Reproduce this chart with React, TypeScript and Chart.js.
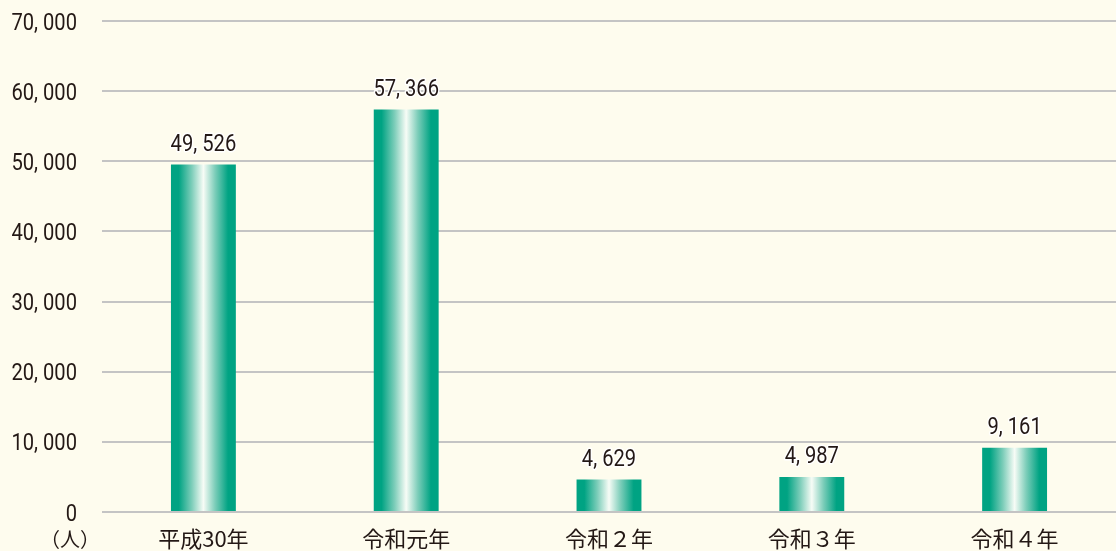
import React, { useEffect, useRef } from "react";
import { Chart, registerables } from "chart.js";

Chart.register(...registerables);

const categories = ["平成30年", "令和元年", "令和２年", "令和３年", "令和４年"];
const values = [49526, 57366, 4629, 4987, 9161];
const yTicks = [0, 10000, 20000, 30000, 40000, 50000, 60000, 70000];
const unitLabel = "（人）";

const NUM_FONT = 'Roboto, "Noto Sans", sans-serif';
const CJK_FONT = '"Noto Sans CJK JP", "Noto Sans", sans-serif';
const TEXT = "#231815";
const TEAL = "#00a383";
const SQUEEZE = 0.84;

const fmt = (v: number) => {
  const s = Math.round(v).toString();
  if (s.length <= 3) return s;
  return s.slice(0, s.length - 3) + ", " + s.slice(s.length - 3);
};

function drawCondensed(ctx: CanvasRenderingContext2D, text: string, x: number, y: number, align: "right" | "center", halo: boolean) {
  ctx.save();
  ctx.translate(x, y);
  ctx.scale(SQUEEZE, 1);
  ctx.textAlign = align;
  ctx.textBaseline = "alphabetic";
  if (halo) {
    ctx.lineWidth = 3;
    ctx.lineJoin = "round";
    ctx.strokeStyle = "#ffffff";
    ctx.strokeText(text, 0, 0);
  }
  ctx.fillStyle = TEXT;
  ctx.fillText(text, 0, 0);
  ctx.restore();
}

export default function App() {
  const ref = useRef<HTMLCanvasElement | null>(null);
  useEffect(() => {
    document.body.style.margin = "0";
    document.body.style.background = "#fefcee";
    const canvas = ref.current!;
    const barPct = 0.32;
    const chart = new Chart(canvas, {
      type: "bar",
      data: {
        labels: categories,
        datasets: [
          {
            data: values,
            barPercentage: barPct,
            categoryPercentage: 1,
            backgroundColor: (ctx: any) => {
              const c = ctx.chart;
              const xs = c.scales.x;
              const area = c.chartArea;
              if (!xs || !area) return TEAL;
              const cx = xs.getPixelForValue(ctx.dataIndex);
              const w = ((area.right - area.left) / categories.length) * barPct;
              const g = c.ctx.createLinearGradient(cx - w / 2, 0, cx + w / 2, 0);
              g.addColorStop(0, TEAL);
              g.addColorStop(0.12, TEAL);
              g.addColorStop(0.32, "#7ccdb9");
              g.addColorStop(0.5, "#f7fcf6");
              g.addColorStop(0.68, "#7ccdb9");
              g.addColorStop(0.88, TEAL);
              g.addColorStop(1, TEAL);
              return g;
            },
            borderWidth: 0,
          },
        ],
      },
      options: {
        animation: false,
        responsive: false,
        maintainAspectRatio: false,
        layout: { padding: { top: 21, left: 0, right: 0, bottom: 0 } },
        plugins: { legend: { display: false }, tooltip: { enabled: false } },
        scales: {
          x: {
            grid: { display: false, drawTicks: false },
            border: { display: false },
            ticks: {
              font: { family: CJK_FONT, size: 22 },
              color: TEXT,
              padding: 13,
              maxRotation: 0,
            },
            afterFit: (s: any) => {
              s.height = 39;
            },
          },
          y: {
            min: 0,
            max: 70000,
            afterBuildTicks: (s: any) => {
              s.ticks = yTicks.map((v) => ({ value: v }));
            },
            grid: { color: "#c4c4c4", lineWidth: 2, drawTicks: false },
            border: { display: false },
            ticks: { display: false },
            afterFit: (s: any) => {
              s.width = 102;
              s.paddingTop = 0;
              s.paddingBottom = 0;
            },
          },
        },
      },
      plugins: [
        {
          id: "labels",
          afterDatasetsDraw(c: any) {
            const ctx = c.ctx;
            const meta = c.getDatasetMeta(0);
            const ys = c.scales.y;
            ctx.save();
            ctx.font = `24px ${NUM_FONT}`;
            yTicks.forEach((v) => {
              const py = ys.getPixelForValue(v);
              drawCondensed(ctx, fmt(v), 77 / SQUEEZE * SQUEEZE, py + 8.5, "right", false);
            });
            meta.data.forEach((el: any, i: number) => {
              drawCondensed(ctx, fmt(values[i]), el.x, el.y - 14, "center", true);
            });
            ctx.font = `20px ${CJK_FONT}`;
            ctx.textAlign = "center";
            ctx.textBaseline = "middle";
            ctx.fillStyle = TEXT;
            ctx.fillText(unitLabel, 70, 539);
            ctx.restore();
          },
        },
      ],
    } as any);
    return () => chart.destroy();
  }, []);
  return (
    <div style={{ width: 1116, height: 551, background: "#fefcee" }}>
      <canvas ref={ref} width={1116} height={551} style={{ display: "block" }} />
    </div>
  );
}
